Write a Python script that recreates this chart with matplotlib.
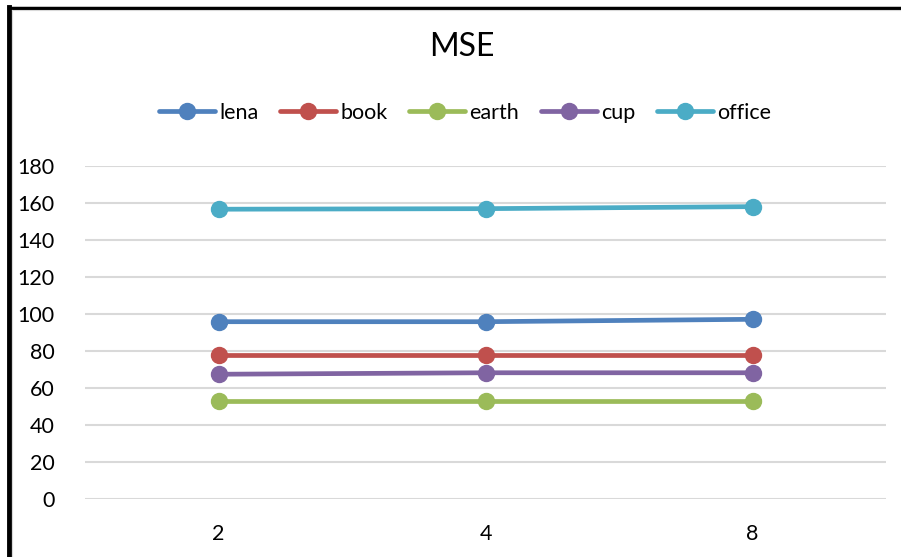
import matplotlib.pyplot as plt
from matplotlib.lines import Line2D

# data
categories = ['2', '4', '8']
lena = [96.0, 96.0, 97.3]
book = [78.0, 78.0, 78.0]
earth = [53.3, 53.3, 53.3]
cup = [67.6, 68.4, 68.4]
office = [156.8, 157.1, 158.2]
yticks = [0, 20, 40, 60, 80, 100, 120, 140, 160, 180]

names = ['lena', 'book', 'earth', 'cup', 'office']
series = [lena, book, earth, cup, office]
colors = ['#4F81BD', '#C0504D', '#9BBB59', '#8064A2', '#4BACC6']

plt.rcParams['font.family'] = ['Lato', 'DejaVu Sans']

fig = plt.figure(figsize=(9.01, 5.57), dpi=100)
ax = fig.add_axes([85/901, 1-499.3/557, (886-85)/901, (499.3-166.3)/557])

x = list(range(len(categories)))
for name, vals, c in zip(names, series, colors):
    ax.plot(x, vals, color=c, lw=3.4, marker='o', ms=11.5, label=name,
            solid_capstyle='round', zorder=3)

ax.set_xlim(-0.5, len(categories) - 0.5)
ax.set_ylim(0, 180)
ax.set_yticks(yticks)
ax.set_xticks(x)
ax.set_xticklabels(categories)
ax.tick_params(length=0, labelsize=15.5, colors='black')
ax.tick_params(axis='x', pad=18)
ax.tick_params(axis='y', pad=22)
ax.grid(axis='y', color='#d9d9d9', lw=1.5)
ax.set_axisbelow(True)
for s in ax.spines.values():
    s.set_visible(False)

fig.text(462/901, 1-47/557, 'MSE', fontsize=23, ha='center', va='center')
fig.legend(loc='center', bbox_to_anchor=(465/901, 1-113/557), ncol=5,
           frameon=False, fontsize=15.5, handlelength=2.6, handletextpad=0.2,
           columnspacing=1.0)

# frame
fig.add_artist(Line2D([9/901, 9/901], [0, 1-7/557], color='black', lw=3.5))
fig.add_artist(Line2D([9/901, 1], [1-7.5/557, 1-7.5/557], color='black', lw=2.5))
fig.add_artist(Line2D([12/901, 12/901], [0, 1-10/557], color='#d9d9d9', lw=0.8))
fig.add_artist(Line2D([12/901, 1], [1-10/557, 1-10/557], color='#d9d9d9', lw=0.8))

fig.savefig('out.png', dpi=100)
